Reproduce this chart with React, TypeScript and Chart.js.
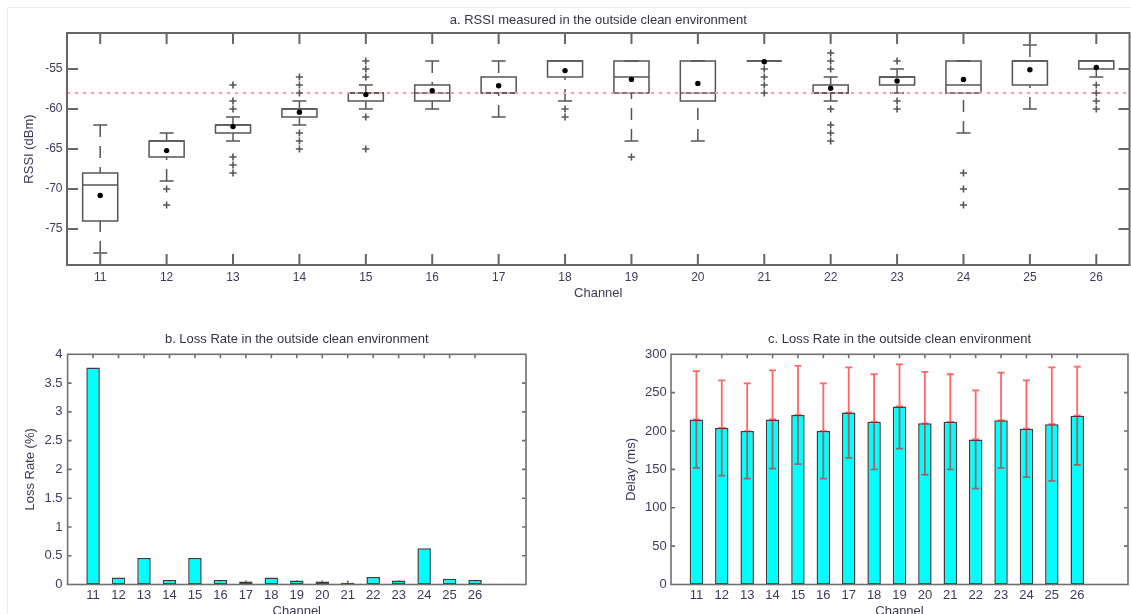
import React, { useEffect, useRef } from 'react';
import { Chart, registerables } from 'chart.js';

Chart.register(...registerables);

// ---- data -----------------------------------------------------------------
const CHANNELS = [11, 12, 13, 14, 15, 16, 17, 18, 19, 20, 21, 22, 23, 24, 25, 26];

// RSSI box plot statistics (dBm)
const RSSI_BOX_TOP = [-68, -64, -62, -60, -58, -57, -56, -54, -54, -54, -54, -57, -56, -54, -54, -54];
const RSSI_BOX_BOTTOM = [-74, -66, -63, -61, -59, -59, -58, -56, -58, -59, -54, -58, -57, -58, -57, -55];
const RSSI_MEDIAN = [-69.5, -64, -62, -60, -58, -58, -58, -54, -56, -58, -54, -58, -56, -57, -54, -54];
const RSSI_WHISKER_HIGH = [-62, -63, -61, -59, -57, -54, -54, -54, -54, -54, -54, -56, -55, -54, -52, -54];
const RSSI_WHISKER_LOW = [-78, -69, -64, -62, -60, -60, -61, -59, -64, -64, -54, -59, -58, -63, -60, -56];
const RSSI_MEAN = [-70.8, -65.2, -62.2, -60.4, -58.2, -57.7, -57.1, -55.2, -56.3, -56.8, -54.1, -57.4, -56.5, -56.3, -55.1, -54.8];
const RSSI_OUTLIERS = [
  [],
  [-70, -72],
  [-57, -59, -60, -66, -67, -68],
  [-56, -57, -58, -63, -64, -65],
  [-54, -55, -56, -61, -65],
  [],
  [],
  [-60, -61],
  [-66],
  [],
  [-55, -56, -57, -58],
  [-53, -54, -55, -60, -62, -63, -64],
  [-54, -59, -60],
  [-68, -70, -72],
  [],
  [-57, -58, -59, -60],
];
const RSSI_REFERENCE = -58;
const RSSI_TICKS = [-75, -70, -65, -60, -55];

// Loss rate (%)
const LOSS_RATE = [3.77, 0.12, 0.46, 0.08, 0.46, 0.08, 0.05, 0.12, 0.07, 0.05, 0.03, 0.13, 0.07, 0.63, 0.1, 0.08];
const LOSS_TICKS = [0, 0.5, 1, 1.5, 2, 2.5, 3, 3.5, 4];

// Delay (ms): mean and standard deviation
const DELAY_MEAN = [215, 204, 200, 215, 221, 200, 224, 212, 232, 210, 212, 189, 214, 203, 209, 220];
const DELAY_STD = [63, 62, 62, 64, 64, 62, 59, 62, 55, 67, 62, 64, 62, 63, 74, 64];
const DELAY_TICKS = [0, 50, 100, 150, 200, 250, 300];

// ---- styling ----------------------------------------------------------------
const FONT = '"Liberation Sans", Arial, sans-serif';
const TEXT = '#3d3a56';
const TITLE_COLOR = '#333340';
const BOX_COLOR = '#555555';

// Inward-pointing tick marks on all four sides (under the data) and a frame
// around the plot area (over the data)
const makeFramePlugin = (id: string, tickLen: number, lineWidth: number, color: string) => ({
  id,
  beforeDatasetsDraw(chart: any) {
    const { ctx, chartArea: a, scales } = chart;
    const x = scales.x;
    const y = scales.y;
    ctx.save();
    ctx.strokeStyle = color;
    ctx.lineWidth = lineWidth;
    ctx.setLineDash([]);
    ctx.beginPath();
    for (const t of x.ticks) {
      const px = x.getPixelForValue(t.value);
      ctx.moveTo(px, a.bottom);
      ctx.lineTo(px, a.bottom - tickLen);
      ctx.moveTo(px, a.top);
      ctx.lineTo(px, a.top + tickLen);
    }
    for (const t of y.ticks) {
      const py = y.getPixelForValue(t.value);
      if (py <= a.top + 1 || py >= a.bottom - 1) continue;
      ctx.moveTo(a.left, py);
      ctx.lineTo(a.left + tickLen, py);
      ctx.moveTo(a.right, py);
      ctx.lineTo(a.right - tickLen, py);
    }
    ctx.stroke();
    ctx.restore();
  },
  afterDatasetsDraw(chart: any) {
    const { ctx, chartArea: a } = chart;
    ctx.save();
    ctx.strokeStyle = color;
    ctx.lineWidth = lineWidth;
    ctx.setLineDash([]);
    ctx.strokeRect(a.left, a.top, a.right - a.left, a.bottom - a.top);
    ctx.restore();
  },
});

// Boxes, medians, dashed whiskers and caps of the RSSI box plot
const BOX_HALF = 0.264;
const CAP_HALF = 0.105;
const boxPlotPlugin = {
  id: 'rssiBoxes',
  beforeDatasetsDraw(chart: any) {
    const { ctx, scales } = chart;
    const x = scales.x;
    const y = scales.y;
    ctx.save();
    ctx.strokeStyle = BOX_COLOR;
    ctx.lineWidth = 1.5;
    CHANNELS.forEach((ch, i) => {
      const cx = x.getPixelForValue(ch);
      const hw = (x.getPixelForValue(ch + BOX_HALF) - x.getPixelForValue(ch - BOX_HALF)) / 2;
      const cw = (x.getPixelForValue(ch + CAP_HALF) - x.getPixelForValue(ch - CAP_HALF)) / 2;
      const top = y.getPixelForValue(RSSI_BOX_TOP[i]);
      const bot = y.getPixelForValue(RSSI_BOX_BOTTOM[i]);
      const med = y.getPixelForValue(RSSI_MEDIAN[i]);
      const hi = y.getPixelForValue(RSSI_WHISKER_HIGH[i]);
      const lo = y.getPixelForValue(RSSI_WHISKER_LOW[i]);

      ctx.setLineDash([]);
      ctx.strokeRect(cx - hw, top, 2 * hw, bot - top);
      ctx.beginPath();
      ctx.moveTo(cx - hw, med);
      ctx.lineTo(cx + hw, med);
      ctx.moveTo(cx - cw, hi);
      ctx.lineTo(cx + cw, hi);
      ctx.moveTo(cx - cw, lo);
      ctx.lineTo(cx + cw, lo);
      ctx.stroke();

      ctx.setLineDash([12, 9]);
      if (hi < top - 0.5) {
        ctx.beginPath();
        ctx.moveTo(cx, hi);
        ctx.lineTo(cx, top);
        ctx.stroke();
      }
      if (lo > bot + 0.5) {
        ctx.beginPath();
        ctx.moveTo(cx, lo);
        ctx.lineTo(cx, bot);
        ctx.stroke();
      }
    });
    ctx.restore();
  },
};

// Standard-deviation error bars on the delay chart
const errorBarPlugin = {
  id: 'delayErrorBars',
  afterDatasetsDraw(chart: any) {
    const { ctx, scales } = chart;
    const x = scales.x;
    const y = scales.y;
    const cap = 3.5;
    ctx.save();
    ctx.strokeStyle = 'rgba(255, 0, 0, 0.6)';
    ctx.lineWidth = 1.8;
    CHANNELS.forEach((ch, i) => {
      const cx = x.getPixelForValue(ch);
      const yHi = y.getPixelForValue(DELAY_MEAN[i] + DELAY_STD[i]);
      const yLo = y.getPixelForValue(DELAY_MEAN[i] - DELAY_STD[i]);
      const yMid = y.getPixelForValue(DELAY_MEAN[i]);
      ctx.beginPath();
      ctx.moveTo(cx, yHi);
      ctx.lineTo(cx, yLo);
      ctx.moveTo(cx - cap, yHi);
      ctx.lineTo(cx + cap, yHi);
      ctx.moveTo(cx - cap, yLo);
      ctx.lineTo(cx + cap, yLo);
      ctx.moveTo(cx - cap, yMid);
      ctx.lineTo(cx + cap, yMid);
      ctx.stroke();
    });
    ctx.restore();
  },
};

const fixedTicks = (values: number[]) => (scale: any) => {
  scale.ticks = values.map((v) => ({ value: v }));
};

const titleOpts = (text: string, top: number, bottom: number) => ({
  display: true,
  text,
  fullSize: false,
  color: TITLE_COLOR,
  font: { family: FONT, size: 13, weight: 'normal' as const },
  padding: { top, bottom },
});

const axisTitle = (text: string, padding: any) => ({
  display: true,
  text,
  color: TEXT,
  font: { family: FONT, size: 13 },
  padding,
});

function useChart(ref: React.RefObject<HTMLCanvasElement | null>, build: () => any) {
  useEffect(() => {
    if (!ref.current) return;
    const chart = new Chart(ref.current, build());
    return () => chart.destroy();
  }, []);
}

function RssiChart() {
  const ref = useRef<HTMLCanvasElement | null>(null);
  useChart(ref, () => {
    const means = CHANNELS.map((c, i) => ({ x: c, y: RSSI_MEAN[i] }));
    const outliers = CHANNELS.flatMap((c, i) => RSSI_OUTLIERS[i].map((v) => ({ x: c, y: v })));
    return {
      type: 'scatter',
      data: {
        datasets: [
          {
            label: 'Mean',
            data: means,
            pointStyle: 'circle',
            pointRadius: 2.7,
            backgroundColor: '#000',
            borderColor: '#000',
            borderWidth: 0,
          },
          {
            label: 'Outliers',
            data: outliers,
            pointStyle: 'cross',
            pointRadius: 3.6,
            borderColor: BOX_COLOR,
            borderWidth: 1.6,
          },
          {
            label: 'Reference',
            data: [
              { x: 10.5, y: RSSI_REFERENCE },
              { x: 26.5, y: RSSI_REFERENCE },
            ],
            showLine: true,
            pointRadius: 0,
            borderColor: '#ff9c9c',
            borderWidth: 2,
            borderDash: [3, 5],
          },
        ],
      },
      options: {
        animation: false,
        responsive: false,
        events: [],
        layout: { autoPadding: false, padding: { left: 0, right: 1.5, top: 0, bottom: 0 } },
        plugins: {
          legend: { display: false },
          tooltip: { enabled: false },
          title: titleOpts('a. RSSI measured in the outside clean environment', 12.2, 5.2),
        },
        scales: {
          x: {
            type: 'linear',
            min: 10.5,
            max: 26.5,
            afterBuildTicks: fixedTicks(CHANNELS),
            afterFit: (s: any) => {
              s.height = 45;
            },
            grid: { display: false, drawTicks: false },
            border: { display: false },
            ticks: {
              autoSkip: false,
              maxRotation: 0,
              padding: 5,
              color: TEXT,
              font: { family: FONT, size: 12 },
              callback: (v: any) => String(v),
            },
            title: axisTitle('Channel', { top: 0, bottom: 9.2 }),
          },
          y: {
            type: 'linear',
            min: -79.5,
            max: -50.5,
            afterBuildTicks: fixedTicks(RSSI_TICKS),
            afterFit: (s: any) => {
              s.width = 67;
            },
            grid: { display: false, drawTicks: false },
            border: { display: false },
            ticks: {
              padding: 4.5,
              color: TEXT,
              font: { family: FONT, size: 12 },
              callback: (v: any) => String(v),
            },
            title: axisTitle('RSSI (dBm)', { top: 21.2, bottom: 0 }),
          },
        },
      },
      plugins: [boxPlotPlugin, makeFramePlugin('rssiFrame', 11, 2, '#666666')],
    };
  });
  return (
    <canvas
      ref={ref}
      width={1131}
      height={310}
      style={{ position: 'absolute', left: 0, top: 0, width: 1131, height: 310 }}
    />
  );
}

const barScales = (
  yTicks: number[],
  yMax: number,
  yWidth: number,
  yTitle: string,
  yTitlePad: number,
  yTickPad: number,
) => ({
  x: {
    type: 'linear',
    offset: false,
    min: 10,
    max: 28,
    afterBuildTicks: fixedTicks(CHANNELS),
    afterFit: (s: any) => {
      s.height = 45.5;
    },
    grid: { display: false, drawTicks: false },
    border: { display: false },
    ticks: {
      autoSkip: false,
      maxRotation: 0,
      padding: 3.4,
      color: TEXT,
      font: { family: FONT, size: 13 },
      callback: (v: any) => String(v),
    },
    title: axisTitle('Channel', { top: 0, bottom: 11.2 }),
  },
  y: {
    type: 'linear',
    min: 0,
    max: yMax,
    afterBuildTicks: fixedTicks(yTicks),
    afterFit: (s: any) => {
      s.width = yWidth;
    },
    grid: { display: false, drawTicks: false },
    border: { display: false },
    ticks: {
      padding: yTickPad,
      color: TEXT,
      font: { family: FONT, size: 13 },
      callback: (v: any) => String(v),
    },
    title: axisTitle(yTitle, { top: yTitlePad, bottom: 0 }),
  },
});

const barDataset = (label: string, values: number[]) => ({
  label,
  data: CHANNELS.map((c, i) => ({ x: c, y: values[i] })),
  backgroundColor: '#00ffff',
  borderColor: '#3c3c3c',
  borderWidth: 1.5,
  borderSkipped: false,
  barPercentage: 0.53,
  categoryPercentage: 1,
});

function LossChart() {
  const ref = useRef<HTMLCanvasElement | null>(null);
  useChart(ref, () => ({
    type: 'bar',
    data: { datasets: [barDataset('Loss Rate', LOSS_RATE)] },
    options: {
      animation: false,
      responsive: false,
      events: [],
      layout: { autoPadding: false, padding: { left: 0, right: 34, top: 0, bottom: 0 } },
      plugins: {
        legend: { display: false },
        tooltip: { enabled: false },
        title: titleOpts('b. Loss Rate in the outside clean environment', 21.2, 7.5),
      },
      scales: barScales(LOSS_TICKS, 4, 67.6, 'Loss Rate (%)', 22.2, 5),
    },
    plugins: [makeFramePlugin('lossFrame', 4, 1.6, '#707070')],
  }));
  return (
    <canvas
      ref={ref}
      width={560}
      height={320}
      style={{ position: 'absolute', left: 0, top: 310, width: 560, height: 320 }}
    />
  );
}

function DelayChart() {
  const ref = useRef<HTMLCanvasElement | null>(null);
  useChart(ref, () => ({
    type: 'bar',
    data: { datasets: [barDataset('Delay', DELAY_MEAN)] },
    options: {
      animation: false,
      responsive: false,
      events: [],
      layout: { autoPadding: false, padding: { left: 0, right: 3, top: 0, bottom: 0 } },
      plugins: {
        legend: { display: false },
        tooltip: { enabled: false },
        title: titleOpts('c. Loss Rate in the outside clean environment', 21.2, 7.5),
      },
      scales: barScales(DELAY_TICKS, 300, 111, 'Delay (ms)', 63.2, 4.3),
    },
    plugins: [errorBarPlugin, makeFramePlugin('delayFrame', 4, 1.6, '#707070')],
  }));
  return (
    <canvas
      ref={ref}
      width={571}
      height={320}
      style={{ position: 'absolute', left: 560, top: 310, width: 571, height: 320 }}
    />
  );
}

export default function App() {
  return (
    <div
      style={{
        position: 'fixed',
        left: 0,
        top: 0,
        width: 1131,
        height: 614,
        overflow: 'hidden',
        background: '#ffffff',
      }}
    >
      <div
        style={{
          position: 'absolute',
          left: 7,
          top: 7,
          right: 0,
          bottom: 0,
          borderTop: '1px solid #ececec',
          borderLeft: '1px solid #ececec',
        }}
      />
      <RssiChart />
      <LossChart />
      <DelayChart />
    </div>
  );
}
